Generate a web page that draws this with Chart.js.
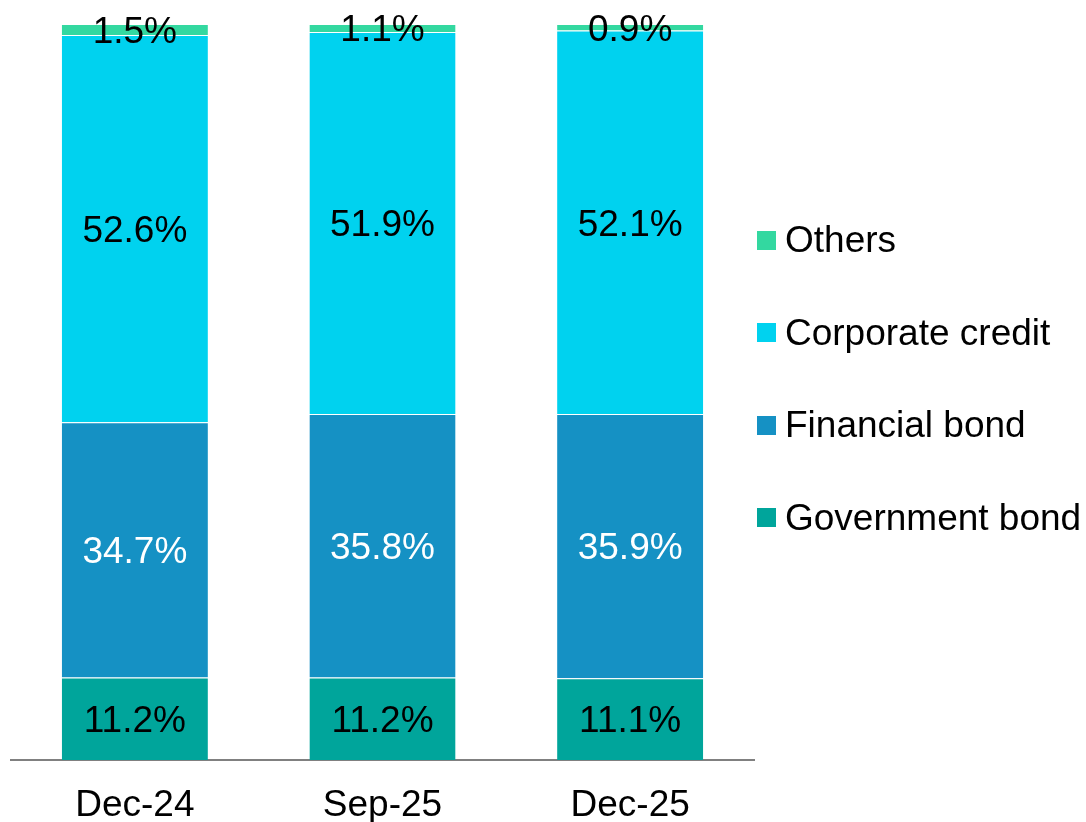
<!DOCTYPE html>
<html>
<head>
<meta charset="utf-8">
<script src="https://cdn.jsdelivr.net/npm/chart.js@4/dist/chart.umd.min.js"></script>
<style>
  html, body { margin: 0; padding: 0; background: #fff; }
  #wrap { position: relative; width: 1086px; height: 822px; }
  #legend {
    position: absolute; left: 757px; top: 194px;
    list-style: none; margin: 0; padding: 0;
    font-family: 'Liberation Sans', Arial, sans-serif; font-size: 37px; color: #000;
  }
  #legend li { display: flex; align-items: center; height: 92.5px; white-space: nowrap; }
  #legend .box { width: 19px; height: 19px; margin-right: 9px; flex: none; }
</style>
</head>
<body>
<div id="wrap">
  <canvas id="chart" width="1086" height="822"></canvas>
  <ul id="legend"></ul>
</div>
<script>
const categories = ['Dec-24', 'Sep-25', 'Dec-25'];
const governmentBond = [11.2, 11.2, 11.1];
const financialBond = [34.7, 35.8, 35.9];
const corporateCredit = [52.6, 51.9, 52.1];
const others = [1.5, 1.1, 0.9];

const FONT = "'Liberation Sans', Arial, sans-serif";

// value labels in the middle of each segment
const segmentLabels = {
  id: 'segmentLabels',
  afterDatasetsDraw(chart) {
    const ctx = chart.ctx;
    ctx.save();
    ctx.font = `37px ${FONT}`;
    ctx.textAlign = 'center';
    ctx.textBaseline = 'middle';
    chart.data.datasets.forEach((ds, i) => {
      const meta = chart.getDatasetMeta(i);
      meta.data.forEach((bar, j) => {
        const { x, y, base } = bar.getProps(['x', 'y', 'base'], true);
        ctx.fillStyle = ds.labelColor;
        ctx.fillText(ds.data[j].toFixed(1) + '%', x, (y + base) / 2 + 3);
      });
    });
    ctx.restore();
  }
};

const seg = { top: 1, bottom: 0, left: 0, right: 0 };

const chart = new Chart(document.getElementById('chart'), {
  type: 'bar',
  data: {
    labels: categories,
    datasets: [
      { label: 'Government bond', data: governmentBond, backgroundColor: '#00A59B', labelColor: '#000' },
      { label: 'Financial bond', data: financialBond, backgroundColor: '#1591C4', labelColor: '#fff' },
      { label: 'Corporate credit', data: corporateCredit, backgroundColor: '#00D2EF', labelColor: '#000' },
      { label: 'Others', data: others, backgroundColor: '#33D8A0', labelColor: '#000' }
    ].map(ds => Object.assign(ds, {
      borderColor: 'rgba(255,255,255,0.4)',
      borderWidth: seg,
      borderSkipped: false,
      barPercentage: 0.59,
      categoryPercentage: 1
    }))
  },
  options: {
    responsive: false,
    animation: false,
    layout: { padding: { left: 11, right: 332, top: 24, bottom: -29 } },
    plugins: {
      legend: { display: false },
      tooltip: { enabled: false }
    },
    scales: {
      x: {
        stacked: true,
        grid: { display: false, drawTicks: false },
        border: { display: true, color: '#808080', width: 2 },
        ticks: { color: '#000', padding: 27, font: { family: FONT, size: 37, lineHeight: 1.0 } }
      },
      y: {
        stacked: true,
        display: false,
        min: 0,
        max: 100
      }
    }
  },
  plugins: [segmentLabels]
});

// legend, top to bottom in reverse stacking order
const legendEl = document.getElementById('legend');
chart.data.datasets.slice().reverse().forEach(ds => {
  const li = document.createElement('li');
  const box = document.createElement('span');
  box.className = 'box';
  box.style.background = ds.backgroundColor;
  li.appendChild(box);
  li.appendChild(document.createTextNode(ds.label));
  legendEl.appendChild(li);
});
</script>
</body>
</html>
